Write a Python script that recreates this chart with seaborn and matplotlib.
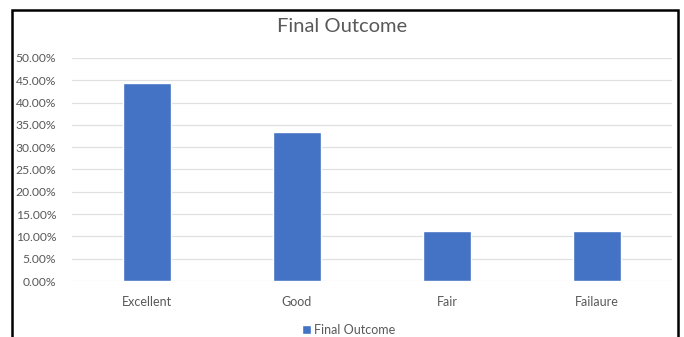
import matplotlib
matplotlib.use("Agg")
import matplotlib.pyplot as plt
import seaborn as sns
import pandas as pd
from matplotlib.patches import Rectangle
from matplotlib.ticker import PercentFormatter, MultipleLocator

categories = ["Excellent", "Good", "Fair", "Failaure"]
values = [0.4444, 0.3333, 0.1111, 0.1111]
series_name = "Final Outcome"

sns.set_theme(style="white")
plt.rcParams["font.family"] = ["Lato", "DejaVu Sans"]

df = pd.DataFrame({"Category": categories, "Value": values})

fig = plt.figure(figsize=(6.84, 3.37), dpi=100)
ax = fig.add_axes([72/684, 1-281/337, 600/684, 223/337])

sns.barplot(data=df, x="Category", y="Value", color="#4472C4", width=0.315,
            saturation=1, ax=ax, label=series_name)

ax.set_ylim(0, 0.5)
ax.yaxis.set_major_locator(MultipleLocator(0.05))
ax.yaxis.set_major_formatter(PercentFormatter(1.0, decimals=2))
ax.grid(axis="y", color="#e0e0e0", linewidth=0.9)
ax.set_axisbelow(True)
for s in ax.spines.values():
    s.set_visible(False)
ax.tick_params(axis="y", length=0, colors="#595959", labelsize=8.7, pad=11.5)
ax.tick_params(axis="x", length=0, colors="#595959", labelsize=9, pad=11)
ax.set_xlabel("")
ax.set_ylabel("")
if ax.get_legend():
    ax.get_legend().remove()

fig.text(0.5, 1-26/337, "Final Outcome", ha="center", va="center",
         fontsize=14.5, color="#595959")

handles, labels = ax.get_legend_handles_labels()
fig.legend(handles[:1], labels[:1], loc="center", bbox_to_anchor=(0.51, 0.022),
           frameon=False, fontsize=9, handlelength=0.7, handleheight=0.7,
           handletextpad=0.3, labelcolor="#595959")

fig.patches.append(Rectangle((12/684, -0.1), (678-12)/684, 1.1-10/337,
                             transform=fig.transFigure, fill=False,
                             edgecolor="black", linewidth=1.8, zorder=10))

fig.savefig("out.png", dpi=100, facecolor="white")
